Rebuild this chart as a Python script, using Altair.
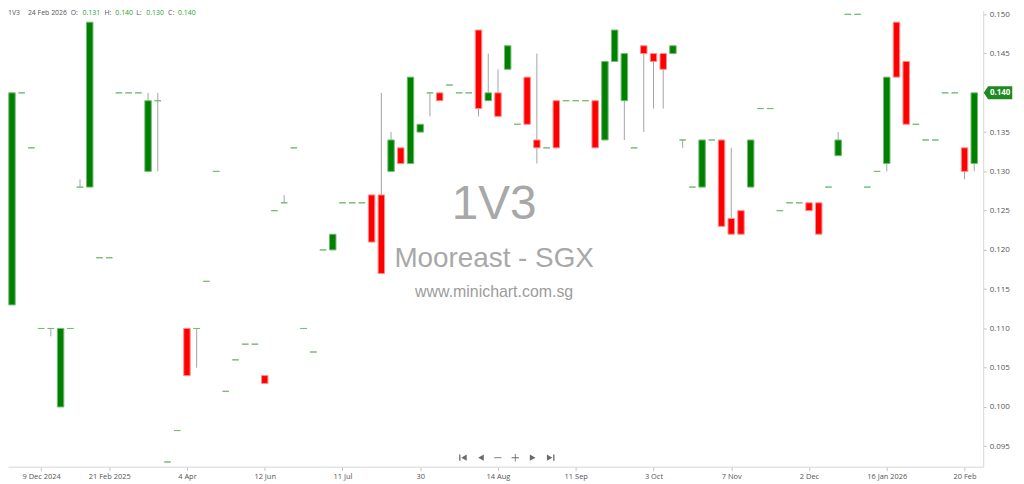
import altair as alt
import pandas as pd

# ---------------- data ----------------
idx = list(range(100))
opens = [0.113, 0.140, 0.133, 0.110, 0.110, 0.100, 0.110, 0.128, 0.128, 0.119,
         0.119, 0.140, 0.140, 0.140, 0.130, 0.139, 0.093, 0.097, 0.110, 0.110,
         0.116, 0.130, 0.102, 0.106, 0.108, 0.108, 0.104, 0.125, 0.126, 0.133,
         0.110, 0.107, 0.120, 0.120, 0.126, 0.126, 0.126, 0.127, 0.127, 0.130,
         0.133, 0.131, 0.135, 0.140, 0.140, 0.141, 0.140, 0.140, 0.148, 0.139,
         0.140, 0.143, 0.136, 0.142, 0.134, 0.133, 0.139, 0.139, 0.139, 0.139,
         0.139, 0.134, 0.144, 0.139, 0.133, 0.146, 0.145, 0.145, 0.145, 0.134,
         0.128, 0.128, 0.134, 0.134, 0.124, 0.125, 0.128, 0.138, 0.138, 0.125,
         0.126, 0.126, 0.126, 0.126, 0.128, 0.132, 0.150, 0.150, 0.128, 0.130,
         0.131, 0.149, 0.144, 0.136, 0.134, 0.134, 0.140, 0.140, 0.133, 0.131]
highs = [0.140, 0.140, 0.133, 0.110, 0.110, 0.110, 0.110, 0.129, 0.149, 0.119,
         0.119, 0.140, 0.140, 0.140, 0.140, 0.140, 0.093, 0.097, 0.110, 0.110,
         0.116, 0.130, 0.102, 0.106, 0.108, 0.108, 0.104, 0.125, 0.127, 0.133,
         0.110, 0.107, 0.120, 0.122, 0.126, 0.126, 0.126, 0.127, 0.140, 0.135,
         0.133, 0.142, 0.136, 0.140, 0.140, 0.141, 0.140, 0.140, 0.148, 0.145,
         0.143, 0.146, 0.136, 0.142, 0.145, 0.133, 0.139, 0.139, 0.139, 0.139,
         0.139, 0.144, 0.148, 0.145, 0.133, 0.146, 0.145, 0.145, 0.146, 0.134,
         0.128, 0.134, 0.134, 0.134, 0.133, 0.125, 0.134, 0.138, 0.138, 0.125,
         0.126, 0.126, 0.126, 0.126, 0.128, 0.135, 0.150, 0.150, 0.128, 0.130,
         0.142, 0.149, 0.144, 0.136, 0.134, 0.134, 0.140, 0.140, 0.133, 0.140]
lows = [0.113, 0.140, 0.133, 0.110, 0.109, 0.100, 0.110, 0.128, 0.128, 0.119,
        0.119, 0.140, 0.140, 0.140, 0.130, 0.130, 0.093, 0.097, 0.104, 0.105,
        0.116, 0.130, 0.102, 0.106, 0.108, 0.108, 0.103, 0.125, 0.126, 0.133,
        0.110, 0.107, 0.120, 0.120, 0.126, 0.126, 0.126, 0.121, 0.117, 0.130,
        0.131, 0.131, 0.135, 0.137, 0.139, 0.141, 0.140, 0.140, 0.137, 0.139,
        0.137, 0.143, 0.136, 0.136, 0.131, 0.133, 0.133, 0.139, 0.139, 0.139,
        0.133, 0.134, 0.144, 0.134, 0.133, 0.135, 0.138, 0.138, 0.145, 0.133,
        0.128, 0.128, 0.134, 0.123, 0.122, 0.122, 0.128, 0.138, 0.138, 0.125,
        0.126, 0.126, 0.125, 0.122, 0.128, 0.132, 0.150, 0.150, 0.128, 0.130,
        0.130, 0.142, 0.136, 0.136, 0.134, 0.134, 0.140, 0.140, 0.129, 0.130]
closes = [0.140, 0.140, 0.133, 0.110, 0.110, 0.110, 0.110, 0.128, 0.149, 0.119,
          0.119, 0.140, 0.140, 0.140, 0.139, 0.139, 0.093, 0.097, 0.104, 0.110,
          0.116, 0.130, 0.102, 0.106, 0.108, 0.108, 0.103, 0.125, 0.126, 0.133,
          0.110, 0.107, 0.120, 0.122, 0.126, 0.126, 0.126, 0.121, 0.117, 0.134,
          0.131, 0.142, 0.136, 0.140, 0.139, 0.141, 0.140, 0.140, 0.138, 0.140,
          0.137, 0.146, 0.136, 0.136, 0.133, 0.133, 0.133, 0.139, 0.139, 0.139,
          0.133, 0.144, 0.148, 0.145, 0.133, 0.145, 0.144, 0.143, 0.146, 0.134,
          0.128, 0.134, 0.134, 0.123, 0.122, 0.122, 0.134, 0.138, 0.138, 0.125,
          0.126, 0.126, 0.125, 0.122, 0.128, 0.134, 0.150, 0.150, 0.128, 0.130,
          0.142, 0.142, 0.136, 0.136, 0.134, 0.134, 0.140, 0.140, 0.130, 0.140]

tick_idx = [3, 10, 18, 26, 34, 42, 50, 58, 66, 74, 82, 90, 98]
tick_labels = ["9 Dec 2024", "21 Feb 2025", "4 Apr", "12 Jun", "11 Jul", "30",
               "14 Aug", "11 Sep", "3 Oct", "7 Nov", "2 Dec", "16 Jan 2026", "20 Feb"]
y_ticks = [0.095, 0.100, 0.105, 0.110, 0.115, 0.120, 0.125, 0.130, 0.135,
           0.140, 0.145, 0.150]

ticker = "1V3"
company = "Mooreast - SGX"
site = "www.minichart.com.sg"
last_date = "24 Feb 2026"

df = pd.DataFrame({"i": idx, "open": opens, "high": highs,
                   "low": lows, "close": closes})

# ---------------- styles ----------------
AXIS_FONT = "Open Sans"
label_expr = "''"
for t, l in reversed(list(zip(tick_idx, tick_labels))):
    label_expr = f"datum.value == {t} ? '{l}' : " + label_expr

x_axis = alt.Axis(values=tick_idx, labelExpr=label_expr, title=None, grid=False,
                  domainColor="#d6d6d6", tickColor="#c8c8c8", tickSize=4,
                  labelFontSize=7.5, labelColor="#555555", labelFont=AXIS_FONT,
                  labelPadding=2, labelFlush=False)
y_axis = alt.Axis(orient="right", values=y_ticks, format=".3f", title=None,
                  grid=False, domainColor="#d6d6d6", tickColor="#bdbdbd",
                  tickSize=3, labelPadding=3, labelFontSize=8,
                  labelColor="#555555", labelFont=AXIS_FONT)
x_scale = alt.Scale(domain=[-0.41, 99.92], nice=False, zero=False, padding=0)
y_scale = alt.Scale(domain=[0.0924, 0.1505], nice=False, zero=False, padding=0)

base = alt.Chart(df).transform_calculate(
    dir="datum.close >= datum.open ? 'up' : 'down'"
)

wicks = base.mark_rule(color="#a3a3a3", strokeWidth=1).encode(
    x=alt.X("i:Q", scale=x_scale, axis=x_axis),
    y=alt.Y("low:Q", scale=y_scale, axis=y_axis),
    y2="high:Q",
)

bodies = base.mark_bar(size=6.5, strokeWidth=1).encode(
    x=alt.X("i:Q", scale=x_scale, axis=x_axis),
    y=alt.Y("open:Q", scale=y_scale, axis=y_axis),
    y2="close:Q",
    fill=alt.Fill("dir:N", scale=alt.Scale(domain=["up", "down"],
                                            range=["#008000", "#ff0000"]), legend=None),
    stroke=alt.Stroke("dir:N", scale=alt.Scale(domain=["up", "down"],
                                                range=["#74bb74", "#ff8c8c"]), legend=None),
)

# last price tag on the right axis
tag_path = "M -1 0 L -0.72 -0.42 L 1 -0.42 L 1 0.42 L -0.72 0.42 Z"
last = base.transform_filter("datum.i == 99")
tag = last.mark_point(shape=tag_path, size=700, filled=True, fill="#1f8a1f",
                      stroke="#1f8a1f", opacity=1).encode(
    x=alt.value({"expr": "width + 15"}),
    y=alt.Y("close:Q", scale=y_scale, axis=y_axis),
)
tag_text = last.mark_text(fontSize=8, color="white", font=AXIS_FONT,
                          fontWeight="bold", align="center", baseline="middle").encode(
    x=alt.value({"expr": "width + 17"}),
    y=alt.Y("close:Q", scale=y_scale, axis=y_axis),
    text=alt.Text("close:Q", format=".3f"),
)

# watermark
wm = [
    (ticker, 48, "height*0.427", "#a8a8a8"),
    (company, 28, "height*0.546", "#a8a8a8"),
    (site, 16, "height*0.618", "#9c9c9c"),
]
wm_layers = []
for txt, fs, yexpr, col in wm:
    wm_layers.append(
        alt.Chart(pd.DataFrame({"t": [txt]})).mark_text(
            fontSize=fs, font="Liberation Sans", color=col,
            align="center", baseline="middle").encode(
            x=alt.value({"expr": "width*0.4985"}),
            y=alt.value({"expr": yexpr}),
            text="t:N")
    )

# header line
last_row = df.iloc[-1]
header = [
    (ticker, 0, "#555555"), (last_date, 20, "#555555"),
    ("O:", 63, "#555555"), (f"{last_row['open']:.3f}", 75, "#2e9e2e"),
    ("H:", 97, "#555555"), (f"{last_row['high']:.3f}", 108, "#2e9e2e"),
    ("L:", 129, "#555555"), (f"{last_row['low']:.3f}", 139, "#2e9e2e"),
    ("C:", 161, "#555555"), (f"{last_row['close']:.3f}", 171, "#2e9e2e"),
]
hdr_layers = []
for txt, xp, col in header:
    hdr_layers.append(
        alt.Chart(pd.DataFrame({"t": [txt]})).mark_text(
            fontSize=7, font=AXIS_FONT, color=col, align="left",
            baseline="middle").encode(
            x=alt.value(xp), y=alt.value(3), text="t:N")
    )

# navigation icons
icons = [
    ("M -0.75 -0.6 L -0.5 -0.6 L -0.5 0.6 L -0.75 0.6 Z M 0.7 -0.6 L -0.35 0 L 0.7 0.6 Z", -44),
    ("M 0.55 -0.6 L -0.55 0 L 0.55 0.6 Z", -26),
    ("M -0.7 -0.08 L 0.7 -0.08 L 0.7 0.08 L -0.7 0.08 Z", -9),
    ("M -0.7 -0.08 L 0.7 -0.08 L 0.7 0.08 L -0.7 0.08 Z M -0.08 -0.7 L 0.08 -0.7 L 0.08 0.7 L -0.08 0.7 Z", 8.5),
    ("M -0.55 -0.6 L 0.55 0 L -0.55 0.6 Z", 26),
    ("M 0.75 -0.6 L 0.5 -0.6 L 0.5 0.6 L 0.75 0.6 Z M -0.7 -0.6 L 0.35 0 L -0.7 0.6 Z", 44),
]
icon_layers = []
for path, off in icons:
    icon_layers.append(
        alt.Chart(pd.DataFrame({"t": [0]})).mark_point(
            shape=path, size=110, filled=True, fill="#6b6b6b", opacity=1,
            strokeWidth=0).encode(
            x=alt.value({"expr": f"width*0.5115 + ({off})"}),
            y=alt.value({"expr": "height - 9"}))
    )

chart = alt.layer(
    *wm_layers, wicks, bodies, tag, tag_text, *hdr_layers, *icon_layers
).properties(
    width=1014, height=474,
    autosize=alt.AutoSizeParams(type="fit", contains="padding"),
    padding=0, background="white",
).configure_view(stroke=None)

chart.save("out.html", embed_options={"renderer": "svg", "actions": False})
